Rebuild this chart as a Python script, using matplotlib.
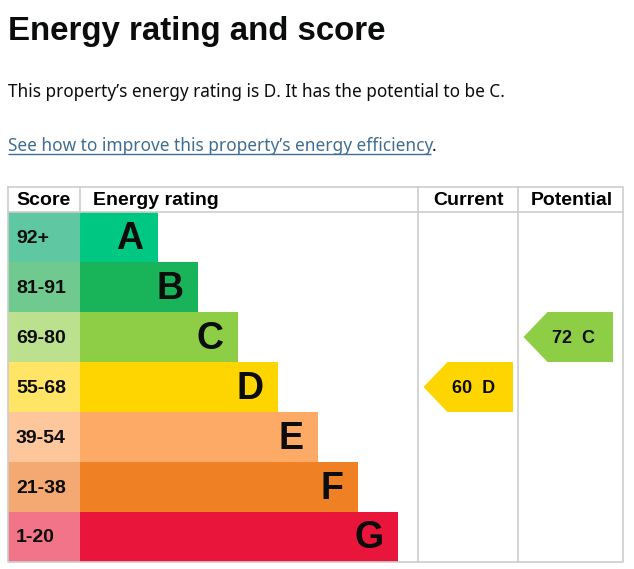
import matplotlib
matplotlib.use("Agg")
import matplotlib.pyplot as plt
from matplotlib.patches import Rectangle, Polygon

# ---- data ----
ratings = ["A", "B", "C", "D", "E", "F", "G"]
score_labels = ["92+", "81-91", "69-80", "55-68", "39-54", "21-38", "1-20"]
band_low = [92, 81, 69, 55, 39, 21, 1]
bar_colors = ["#00c781", "#19b459", "#8dce46", "#ffd500", "#fcaa65", "#ef8023", "#e9153b"]
score_colors = ["#5fc7a1", "#70c98f", "#bce18e", "#ffe466", "#fdc79b", "#f4a872", "#f17489"]
current_score = 60
potential_score = 72
title = "Energy rating and score"
subtitle = "This property\u2019s energy rating is D. It has the potential to be C."
link_text = "See how to improve this property\u2019s energy efficiency"
headers = ["Score", "Energy rating", "Current", "Potential"]

W, H = 634, 569
fig = plt.figure(figsize=(W / 100, H / 100), dpi=100)
ax = fig.add_axes([0, 0, 1, 1])
ax.set_xlim(0, W)
ax.set_ylim(H, 0)
ax.axis("off")

PT = 0.72  # px -> pt
renderer = fig.canvas.get_renderer()


def fit_text(x, y, s, target_w, family, weight, color="black", **kw):
    t = ax.text(x, y, s, fontsize=20, family=family, weight=weight, color=color,
                ha="left", va="baseline", **kw)
    bb = t.get_window_extent(renderer=renderer)
    t.set_fontsize(20 * target_w / bb.width)
    return t


fit_text(8, 39.5, title, 377, ["Liberation Sans"], "bold", "#0b0c0c")
fit_text(8, 97, subtitle, 494, ["Noto Sans"], "normal", "#0b0c0c")
lt = fit_text(8, 151, link_text, 423, ["Noto Sans"], "normal", "#3f6d94")
ax.plot([8, 431], [154, 154], color="#3f6d94", lw=1.0, solid_capstyle="butt")
ax.text(432, 151, ".", fontsize=lt.get_fontsize(), family=["Noto Sans"], color="#0b0c0c",
        ha="left", va="baseline")

# ---- table layout ----
left, right, top = 8, 623, 187
head_h, row_h = 25, 50
score_w = 72
col_cur, col_pot = 418, 518
bar_x0 = left + score_w
body_top = top + head_h
bottom = body_top + row_h * len(ratings)
grid = "#cdcdcd"
lw = 1.2

tfam = ["Liberation Sans", "DejaVu Sans"]
for i, (r, sl) in enumerate(zip(ratings, score_labels)):
    y0 = body_top + i * row_h
    ax.add_patch(Rectangle((left, y0), score_w, row_h, facecolor=score_colors[i], edgecolor="none"))
    bar_end = bar_x0 + 78 + 40 * i
    ax.add_patch(Rectangle((bar_x0, y0), bar_end - bar_x0, row_h, facecolor=bar_colors[i], edgecolor="none"))
    ax.text(16, y0 + row_h / 2 + 1, sl, fontsize=14, family=tfam, weight="bold",
            ha="left", va="center", color="#0b0c0c")
    ax.text(bar_end - 14.5, y0 + row_h / 2 + 1.5, r, fontsize=27, family=tfam, weight="bold",
            ha="right", va="center", color="#0b0c0c")

# grid lines
ax.plot([left, right, right, left, left], [top, top, bottom, bottom, top], color=grid, lw=lw)
ax.plot([left, right], [body_top, body_top], color=grid, lw=lw)
ax.plot([bar_x0, bar_x0], [top, body_top], color=grid, lw=lw)
ax.plot([col_cur, col_cur], [top, bottom], color=grid, lw=lw)
ax.plot([col_pot, col_pot], [top, bottom], color=grid, lw=lw)

hy = top + head_h / 2 + 1
ax.text(16, hy, headers[0], fontsize=14, family=tfam, weight="bold", ha="left", va="center")
ax.text(93, hy, headers[1], fontsize=14, family=tfam, weight="bold", ha="left", va="center")
ax.text((col_cur + col_pot) / 2, hy, headers[2], fontsize=14, family=tfam, weight="bold",
        ha="center", va="center")
ax.text((col_pot + right) / 2 + 1, hy, headers[3], fontsize=14, family=tfam, weight="bold",
        ha="center", va="center")


def band_of(score):
    for i, lo in enumerate(band_low):
        if score >= lo:
            return i
    return len(band_low) - 1


def arrow(col_left, score):
    i = band_of(score)
    y0 = body_top + i * row_h
    tip = col_left + 5.5
    body = tip + 24
    endx = tip + 89.5
    ax.add_patch(Polygon([(tip, y0 + row_h / 2), (body, y0), (endx, y0), (endx, y0 + row_h),
                          (body, y0 + row_h)], closed=True, facecolor=bar_colors[i], edgecolor="none"))
    ax.text(body + 4, y0 + row_h / 2 + 1, f"{score}  {ratings[i]}", fontsize=13, family=tfam,
            weight="bold", ha="left", va="center", color="#0b0c0c")


arrow(col_cur, current_score)
arrow(col_pot, potential_score)

fig.savefig("out.png", dpi=100)
